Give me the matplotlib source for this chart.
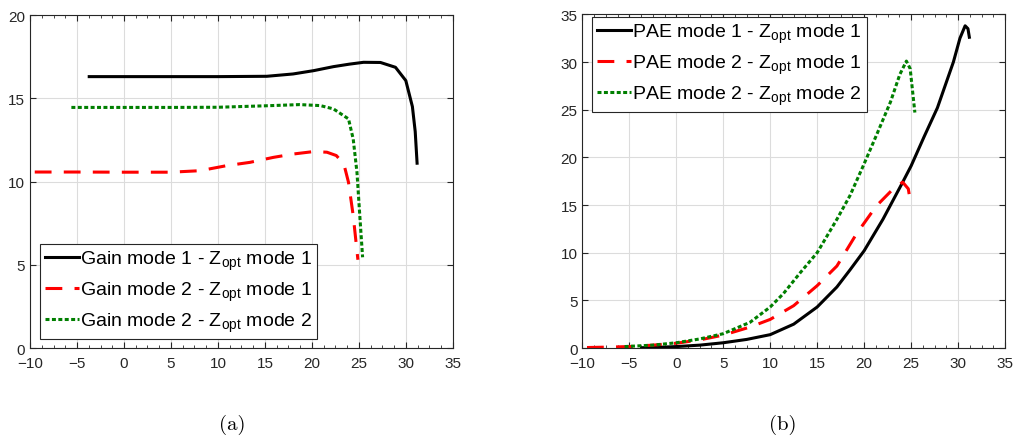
import matplotlib
matplotlib.use("Agg")
import matplotlib.pyplot as plt
from matplotlib.ticker import MultipleLocator, AutoMinorLocator

# ---- Data ----
gain_m1_x = [-3.7, 0, 5, 10, 15.2, 18.0, 20.2, 22.3, 24.0, 25.5, 27.3, 28.9, 30.0, 30.7, 31.0, 31.2]
gain_m1_y = [16.3, 16.3, 16.3, 16.3, 16.32, 16.46, 16.66, 16.9, 17.05, 17.16, 17.15, 16.86, 16.06, 14.5, 13.0, 11.1]

gain_m2z1_x = [-9.5, -5, 0, 5, 8.1, 10.9, 13.4, 15.9, 18.0, 20.2, 21.6, 22.6, 23.4, 23.9, 24.4, 24.9]
gain_m2z1_y = [10.57, 10.57, 10.56, 10.56, 10.65, 10.95, 11.15, 11.45, 11.65, 11.8, 11.76, 11.56, 11.06, 9.95, 7.95, 5.3]

gain_m2z2_x = [-5.6, 0, 5, 10, 15.2, 18.7, 20.9, 22.3, 23.9, 24.4, 24.8, 25.1, 25.4]
gain_m2z2_y = [14.45, 14.45, 14.45, 14.46, 14.55, 14.62, 14.56, 14.36, 13.76, 12.55, 10.55, 7.95, 5.45]

pae_m1_x = [-3.7, -2, 0, 2.5, 5, 7.5, 10, 12.5, 15, 17.1, 18.5, 20, 22, 24, 25, 26.4, 27.8, 29.5, 30.2, 30.75, 31.05, 31.2]
pae_m1_y = [0.03, 0.07, 0.15, 0.3, 0.55, 0.9, 1.4, 2.5, 4.3, 6.4, 8.2, 10.2, 13.5, 17.2, 19.1, 22.2, 25.2, 30.0, 32.5, 33.8, 33.5, 32.6]

pae_m2z1_x = [-9.5, -7, -5, -2.5, 0, 2.5, 5, 7.86, 10, 12.5, 15, 17.1, 19.2, 21.3, 23.1, 24.1, 24.7, 24.9]
pae_m2z1_y = [0.05, 0.1, 0.15, 0.3, 0.5, 0.85, 1.35, 2.2, 3.0, 4.44, 6.54, 8.6, 12.0, 14.9, 16.7, 17.4, 16.7, 15.5]

pae_m2z2_x = [-5.5, -2.5, 0, 2.5, 5, 7.86, 10, 11.4, 13.2, 15, 17.1, 18.5, 19.9, 21.3, 22.8, 23.8, 24.5, 24.9, 25.4]
pae_m2z2_y = [0.15, 0.3, 0.55, 0.95, 1.5, 2.7, 4.3, 5.7, 7.9, 10.0, 13.5, 16.0, 19.1, 22.3, 25.8, 28.7, 30.1, 29.3, 24.7]

gain_labels = [r'Gain mode 1 - Z$_{\mathregular{opt}}$ mode 1',
               r'Gain mode 2 - Z$_{\mathregular{opt}}$ mode 1',
               r'Gain mode 2 - Z$_{\mathregular{opt}}$ mode 2']
pae_labels = [r'PAE mode 1 - Z$_{\mathregular{opt}}$ mode 1',
              r'PAE mode 2 - Z$_{\mathregular{opt}}$ mode 1',
              r'PAE mode 2 - Z$_{\mathregular{opt}}$ mode 2']
captions = ['(a)', '(b)']

plt.rcParams['font.family'] = ['Liberation Sans', 'DejaVu Sans']
plt.rcParams['mathtext.default'] = 'regular'

fig = plt.figure(figsize=(10.15, 4.39), dpi=100)
axL = fig.add_axes([0.0296, 0.205, 0.4165, 0.7585])
axR = fig.add_axes([0.5737, 0.205, 0.4165, 0.760])

styles = [dict(color='black', linestyle='-'),
          dict(color='#ff0000', linestyle=(0, (5.5, 4))),
          dict(color='#007f00', linestyle=(0, (1.3, 0.8)))]

def style_axes(ax, ymax):
    ax.set_xlim(-10, 35)
    ax.set_ylim(0, ymax)
    ax.xaxis.set_major_locator(MultipleLocator(5))
    ax.xaxis.set_minor_locator(AutoMinorLocator(4))
    ax.yaxis.set_major_locator(MultipleLocator(5))
    ax.grid(True, which='major', color='#dcdcdc', linewidth=0.8)
    ax.set_axisbelow(True)
    ax.tick_params(which='both', direction='in', top=True, right=True,
                   colors='#262626', labelsize=11)
    ax.tick_params(axis='x', which='major', pad=6)
    ax.tick_params(axis='y', which='major', pad=3.5)
    ax.tick_params(which='major', length=4, width=0.8)
    ax.tick_params(which='minor', length=2.5, width=0.6)
    for s in ax.spines.values():
        s.set_color('#262626')
        s.set_linewidth(0.8)

for (x, y), st, lab in zip([(gain_m1_x, gain_m1_y), (gain_m2z1_x, gain_m2z1_y), (gain_m2z2_x, gain_m2z2_y)],
                           styles, gain_labels):
    axL.plot(x, y, linewidth=2.2, label=lab, **st)
for (x, y), st, lab in zip([(pae_m1_x, pae_m1_y), (pae_m2z1_x, pae_m2z1_y), (pae_m2z2_x, pae_m2z2_y)],
                           styles, pae_labels):
    axR.plot(x, y, linewidth=2.2, label=lab, **st)

style_axes(axL, 20)
style_axes(axR, 35)

legkw = dict(fontsize=14, handlelength=1.75, handletextpad=0.05, fancybox=False,
             framealpha=1, edgecolor='#262626', borderpad=0.25, labelspacing=0.4,
             borderaxespad=0)
lgL = axL.legend(loc='lower left', bbox_to_anchor=(0.024, 0.027), **legkw)
lgR = axR.legend(loc='upper left', bbox_to_anchor=(0.023, 0.993), **legkw)
for lg in (lgL, lgR):
    lg.get_frame().set_linewidth(0.8)

fig.text(232 / 1015, 1 - 425 / 439, captions[0], fontsize=15, family='cmr10', ha='center', va='center')
fig.text(783 / 1015, 1 - 425 / 439, captions[1], fontsize=15, family='cmr10', ha='center', va='center')

fig.savefig('out.png', dpi=100)
